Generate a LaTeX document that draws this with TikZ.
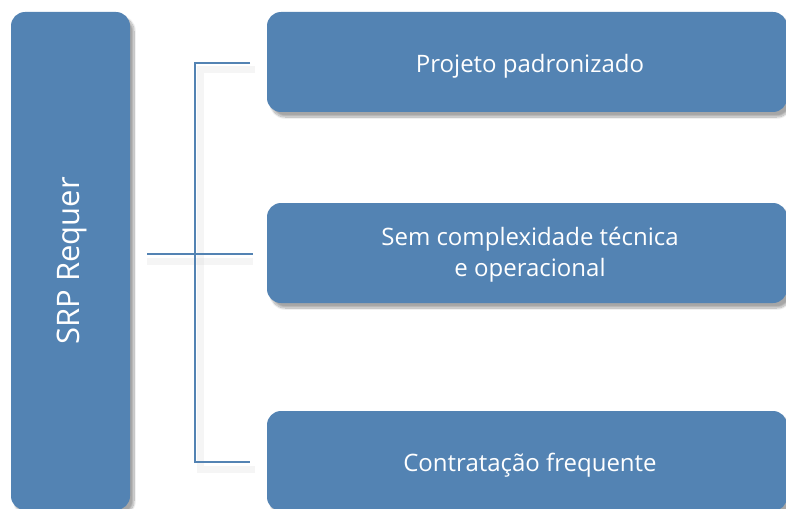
\documentclass[tikz,border=0pt]{standalone}
\usepackage{fontspec}
\setmainfont{Open Sans}
\usetikzlibrary{shadows.blur}
\definecolor{boxblue}{RGB}{83,131,179}
\definecolor{shadowgray}{RGB}{190,190,190}
\begin{document}
\begin{tikzpicture}[x=1pt,y=-1pt,
  box/.style={fill=boxblue, rounded corners=14pt, inner sep=0pt,
    blur shadow={shadow xshift=4pt, shadow yshift=-5pt, shadow blur steps=12, shadow opacity=35}},
  boxtext/.style={text=white, align=center, inner sep=0pt, font=\fontsize{24}{31}\selectfont},
  link/.style={draw=boxblue, line width=2pt},
  linkshadow/.style={draw=shadowgray, line width=7pt, opacity=0.15}]
\useasboundingbox (0,0) rectangle (786,508);
\clip (0,0) rectangle (786,508);
\node[box, minimum width=119pt, minimum height=498pt] (srp) at (70.5,261) {};
\node[rotate=90, text=white, inner sep=0pt, font=\fontsize{31}{36}\selectfont] (srplabel) at ([xshift=1.5pt]srp.center) {SRP Requer};
\node[box, minimum width=520pt, minimum height=100pt] (b1) at (527,62) {};
\node[box, minimum width=520pt, minimum height=100pt] (b2) at (527,253) {};
\node[box, minimum width=520pt, minimum height=100pt] (b3) at (527,461) {};
\node[boxtext] (t1) at ([xshift=3pt,yshift=-4pt]b1.center) {Projeto padronizado};
\node[boxtext] (t2) at ([xshift=3pt,yshift=-2pt]b2.center) {Sem complexidade técnica\\e operacional};
\node[boxtext] (t3) at ([xshift=3pt,yshift=-4pt]b3.center) {Contratação frequente};
\coordinate (mid) at (147,254);
\coordinate (midend) at (253,254);
\coordinate (top) at (195,63);
\coordinate (topend) at (250,63);
\coordinate (bot) at (195,462);
\coordinate (botend) at (250,462);
\draw[linkshadow] ([shift={(5,7)}]topend) -- ([shift={(5,7)}]top) -- ([shift={(5,7)}]bot) -- ([shift={(5,7)}]botend);
\draw[linkshadow] ([shift={(0,7)}]mid) -- ([shift={(0,7)}]midend);
\draw[link] (topend) -- (top) -- (bot) -- (botend);
\draw[link] (mid) -- (midend);
\end{tikzpicture}
\end{document}
